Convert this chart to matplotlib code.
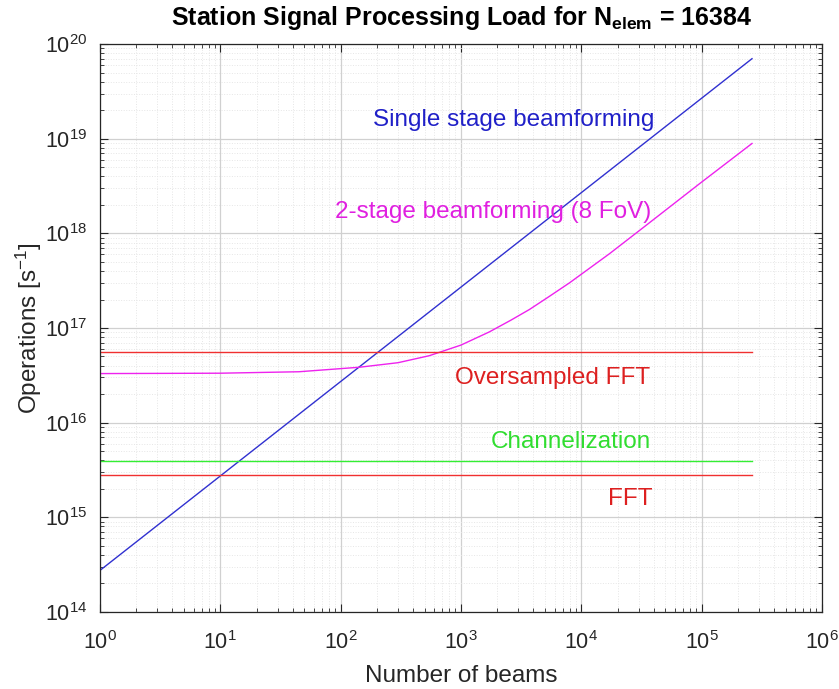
import matplotlib
matplotlib.use("Agg")
import matplotlib.pyplot as plt
import numpy as np

plt.rcParams['font.family'] = ['Liberation Sans', 'DejaVu Sans']
plt.rcParams['mathtext.fontset'] = 'custom'
plt.rcParams['mathtext.rm'] = 'Liberation Sans'
plt.rcParams['mathtext.it'] = 'Liberation Sans:italic'
plt.rcParams['mathtext.bf'] = 'Liberation Sans:bold'

# Data
beams_end = [1, 262144]
single_stage = [2.75e14, 7.0e19]

two_stage_x = [1, 10, 45, 143, 300, 546, 1000, 1722, 2600, 3710, 5400, 7980, 17170, 34700, 96200, 262144]
two_stage_y = [3.3e16, 3.33e16, 3.45e16, 3.85e16, 4.3e16, 5.1e16, 6.6e16, 9.1e16,
               1.21e17, 1.57e17, 2.15e17, 3.0e17, 6.1e17, 1.22e18, 3.35e18, 8.9e18]

oversampled_fft = [5.6e16, 5.6e16]
channelization = [3.9e15, 3.9e15]
fft = [2.8e15, 2.8e15]

labels = ["Single stage beamforming", "2-stage beamforming (8 FoV)",
          "Oversampled FFT", "Channelization", "FFT"]

fig = plt.figure(figsize=(8.39, 6.89), dpi=100)
ax = fig.add_axes([0.1192, 0.1118, 0.8605, 0.8243])

c_blue = '#3030d0'
c_mag = '#ee22ee'
c_red = '#f03030'
c_green = '#33ee33'

ax.loglog(beams_end, single_stage, color=c_blue, lw=1.0)
ax.loglog(two_stage_x, two_stage_y, color=c_mag, lw=1.0)
ax.loglog(beams_end, oversampled_fft, color=c_red, lw=1.0)
ax.loglog(beams_end, channelization, color=c_green, lw=1.0)
ax.loglog(beams_end, fft, color=c_red, lw=1.0)

ax.set_xlim(1, 1e6)
ax.set_ylim(1e14, 1e20)

fs = 17.5
ax.text(4.06e4, 1.36e19, labels[0], color='#2020c8', fontsize=fs, ha='right', va='baseline')
ax.text(3.8e4, 1.44e18, labels[1], color='#e020e0', fontsize=fs, ha='right', va='baseline')
ax.text(3.7e4, 2.54e16, labels[2], color='#dd2020', fontsize=fs, ha='right', va='baseline')
ax.text(3.8e4, 5.36e15, labels[3], color='#30dd30', fontsize=fs, ha='right', va='baseline')
ax.text(3.9e4, 1.35e15, labels[4], color='#dd2020', fontsize=fs, ha='right', va='baseline')

ax.set_xticks([10.0**k for k in range(0, 7)])
ax.set_yticks([10.0**k for k in range(14, 21)])
ax.xaxis.set_minor_locator(matplotlib.ticker.LogLocator(base=10, subs=np.arange(2, 10), numticks=20))
ax.yaxis.set_minor_locator(matplotlib.ticker.LogLocator(base=10, subs=np.arange(2, 10), numticks=20))
ax.xaxis.set_minor_formatter(matplotlib.ticker.NullFormatter())
ax.yaxis.set_minor_formatter(matplotlib.ticker.NullFormatter())

ax.grid(True, which='major', color='#d0d0d0', lw=0.9)
ax.grid(True, which='minor', color='#e6e6e6', lw=0.7, ls=':')
ax.set_axisbelow(True)

ax.tick_params(which='both', direction='in', top=True, right=True, colors='#262626')
ax.tick_params(axis='x', which='major', pad=14)
ax.tick_params(axis='y', which='major', pad=9)
ax.tick_params(which='major', length=6, labelsize=15.5, width=0.8)
ax.tick_params(which='minor', length=3, width=0.6)
for s in ax.spines.values():
    s.set_color('#262626')
    s.set_linewidth(0.9)

ax.set_xlabel('Number of beams', fontsize=fs, color='#262626', labelpad=8)
ax.set_ylabel(r'Operations [s$^{-1}$]', fontsize=fs, color='#262626', labelpad=1)
fig.text(461.5 / 839, 1 - 25 / 689,
         r'Station Signal Processing Load for N$_{\mathbf{elem}}$ = 16384',
         fontsize=18, fontweight='bold', ha='center', va='baseline')

fig.savefig('out.png', dpi=100)
